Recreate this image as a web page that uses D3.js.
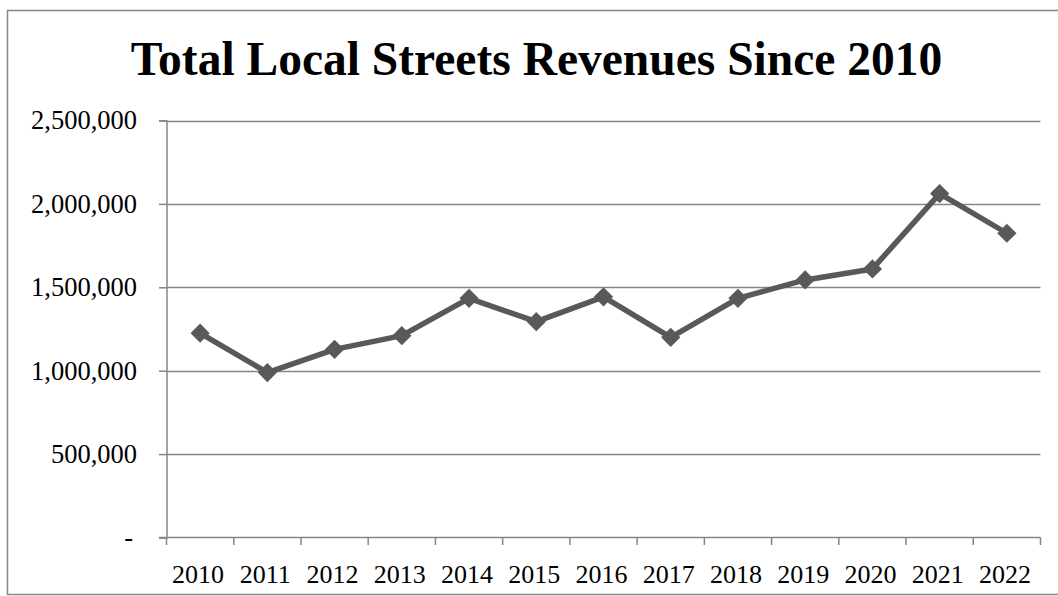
<!DOCTYPE html>
<html>
<head>
<meta charset="utf-8">
<script src="https://cdn.jsdelivr.net/npm/d3@7"></script>
<style>
  html, body { margin: 0; padding: 0; background: #fff; }
  svg { display: block; }
</style>
</head>
<body>
<svg id="chart" width="1058" height="596"></svg>
<script>
// Chart data
const years = ["2010","2011","2012","2013","2014","2015","2016","2017","2018","2019","2020","2021","2022"];
const revenues = [1225000, 989000, 1128000, 1210000, 1434000, 1294000, 1443000, 1200000, 1434000, 1544000, 1610000, 2062000, 1824000];
const yTicks = [0, 500000, 1000000, 1500000, 2000000, 2500000];
const titleText = "Total Local Streets Revenues Since 2010";

const svg = d3.select("#chart");
const W = 1058, H = 596;
const margin = { left: 166.5, right: 17.5, top: 120.5, bottom: 58.5 };
const serif = "'Liberation Serif', 'Times New Roman', serif";

// Outer chart frame
svg.append("rect")
  .attr("x", 7.5).attr("y", 10.5)
  .attr("width", 1060).attr("height", 584)
  .attr("fill", "#fff")
  .attr("stroke", "#868686").attr("stroke-width", 1.5);

// Title
svg.append("text")
  .attr("x", 536.5).attr("y", 75)
  .attr("text-anchor", "middle")
  .attr("font-family", serif)
  .attr("font-weight", "bold")
  .attr("font-size", 47.5)
  .attr("fill", "#000")
  .text(titleText);

const x = d3.scaleBand()
  .domain(years)
  .range([margin.left, W - margin.right])
  .paddingInner(0).paddingOuter(0);

const y = d3.scaleLinear()
  .domain([0, 2500000])
  .range([H - margin.bottom, margin.top]);

// Horizontal gridlines
svg.append("g")
  .selectAll("line")
  .data(yTicks.filter(d => d > 0))
  .join("line")
  .attr("x1", margin.left).attr("x2", W - margin.right)
  .attr("y1", d => Math.round(y(d)) + 0.5).attr("y2", d => Math.round(y(d)) + 0.5)
  .attr("stroke", "#868686").attr("stroke-width", 1.5);

// Y axis
const fmt = d3.format(",");
const yAxis = svg.append("g")
  .attr("transform", `translate(${margin.left},0)`)
  .call(d3.axisLeft(y)
    .tickValues(yTicks)
    .tickSize(7.5)
    .tickPadding(22)
    .tickFormat(d => d === 0 ? "-" : fmt(d)));
yAxis.select(".domain").attr("stroke", "#868686").attr("stroke-width", 1.5);
yAxis.selectAll(".tick line").attr("stroke", "#868686").attr("stroke-width", 1.5);
yAxis.selectAll(".tick text")
  .attr("font-family", serif)
  .attr("font-size", 26.5)
  .attr("fill", "#000")
  .attr("dx", d => d === 0 ? -4 : 0);

// X axis with ticks at category boundaries
const xAxis = svg.append("g")
  .attr("transform", `translate(0,${H - margin.bottom})`)
  .call(d3.axisBottom(x).tickSize(0).tickPadding(27));
xAxis.select(".domain").remove();
xAxis.selectAll(".tick text")
  .attr("font-family", serif)
  .attr("font-size", 26)
  .attr("fill", "#000")
  .attr("dx", -2);

const boundaries = years.map(d => x(d)).concat([x(years[years.length - 1]) + x.bandwidth()]);
xAxis.append("line")
  .attr("x1", margin.left - 7.5).attr("x2", W - margin.right)
  .attr("y1", 0).attr("y2", 0)
  .attr("stroke", "#868686").attr("stroke-width", 1.5);
xAxis.selectAll(".bnd")
  .data(boundaries)
  .join("line")
  .attr("class", "bnd")
  .attr("x1", d => d).attr("x2", d => d)
  .attr("y1", 0).attr("y2", 7.5)
  .attr("stroke", "#868686").attr("stroke-width", 1.5);

// Revenue line
const points = years.map((yr, i) => ({ yr, v: revenues[i] }));
const line = d3.line()
  .x(d => x(d.yr) + x.bandwidth() / 2)
  .y(d => y(d.v));

svg.append("path")
  .datum(points)
  .attr("d", line)
  .attr("fill", "none")
  .attr("stroke", "#595959")
  .attr("stroke-width", 5.5)
  .attr("stroke-linejoin", "round");

// Diamond markers
const sym = d3.symbol().type(d3.symbolSquare).size(185);
svg.append("g")
  .selectAll("path")
  .data(points)
  .join("path")
  .attr("d", sym)
  .attr("transform", d => `translate(${x(d.yr) + x.bandwidth() / 2},${y(d.v)}) rotate(45)`)
  .attr("fill", "#595959");
</script>
</body>
</html>
